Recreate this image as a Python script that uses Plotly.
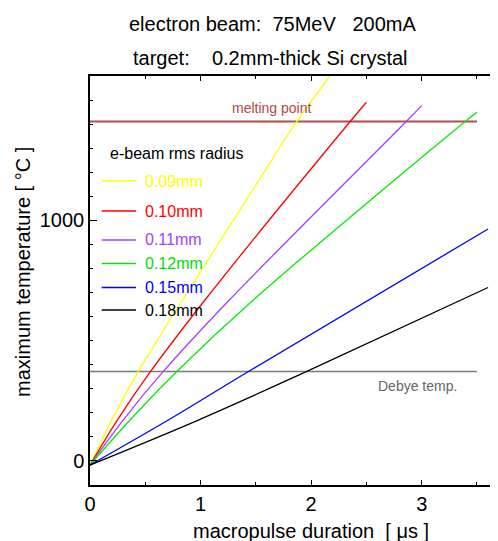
import plotly.graph_objects as go

# ---- data ----
radius_labels = ["0.09mm", "0.10mm", "0.11mm", "0.12mm", "0.15mm", "0.18mm"]
colors = ["#ffff00", "#ff0000", "#a040ff", "#00ee00", "#0000ff", "#000000"]
legend_text_colors = ["#ffff00", "#ff0000", "#a040ff", "#00e000", "#0000ff", "#000000"]

dur_009 = [0, 0.196, 0.437, 0.838, 1.538, 1.87, 2.17]
temp_009 = [-17, 170, 372, 669, 1174, 1411, 1600]
dur_010 = [0, 0.247, 0.548, 1.04, 2.353, 2.5]
temp_010 = [-17, 170, 372, 669, 1411, 1491]
dur_011 = [0, 0.30, 0.663, 1.26, 2.86, 3.0]
temp_011 = [-17, 170, 372, 669, 1411, 1477]
dur_012 = [0, 0.362, 0.785, 1.477, 3.394, 3.5]
temp_012 = [-17, 170, 372, 669, 1411, 1449]
dur_015 = [0, 0.708, 1.433, 3.6]
temp_015 = [-17, 170, 372, 964]
dur_018 = [0, 0.98, 1.961, 3.6]
temp_018 = [-17, 170, 372, 721]

durations = [dur_009, dur_010, dur_011, dur_012, dur_015, dur_018]
temps = [temp_009, temp_010, temp_011, temp_012, temp_015, temp_018]

melting_point = 1411
debye_temp = 372
ref_line_x = [0, 3.5]

FONT = "Liberation Sans, Arial, sans-serif"

# page body has an 8px margin; plot area in screen px: x 90..498, y 76..485
PX_L, PX_R, PX_T, PX_B = 90, 498, 76, 485
PW, PH = PX_R - PX_L, PX_B - PX_T


def px(xs):
    return (xs - PX_L) / PW


def py(ys):
    return (PX_B - ys) / PH


fig = go.Figure()

# reference lines
fig.add_trace(go.Scatter(x=ref_line_x, y=[melting_point] * 2, mode="lines",
                         line=dict(color="#b34d4d", width=2), showlegend=False,
                         hoverinfo="skip"))
fig.add_trace(go.Scatter(x=ref_line_x, y=[debye_temp] * 2, mode="lines",
                         line=dict(color="#7a7a7a", width=1.5), showlegend=False,
                         hoverinfo="skip"))

for lab, c, xs, ys in zip(radius_labels, colors, durations, temps):
    fig.add_trace(go.Scatter(x=xs, y=ys, mode="lines", name=lab,
                             line=dict(color=c, width=1.3, shape="spline", smoothing=1),
                             showlegend=False))

annotations = []
shapes = []

# handmade legend
annotations.append(dict(text="e-beam rms radius", xref="paper", yref="paper",
                        x=px(107.5), y=py(153), xanchor="left", yanchor="middle",
                        showarrow=False, font=dict(size=16, color="#000000", family=FONT)))
leg_y = [181, 211, 240, 263.5, 287.5, 310]
for lab, c, tc, yy in zip(radius_labels, colors, legend_text_colors, leg_y):
    shapes.append(dict(type="line", xref="paper", yref="paper", x0=px(101.7), x1=px(136),
                       y0=py(yy), y1=py(yy), line=dict(color=c, width=1.3)))
    annotations.append(dict(text=lab, xref="paper", yref="paper", x=px(142.5), y=py(yy),
                            xanchor="left", yanchor="middle", showarrow=False,
                            font=dict(size=16, color=tc, family=FONT)))

# reference line labels
annotations.append(dict(text="melting point", x=1.64, y=melting_point, xref="x", yref="y",
                        xanchor="center", yanchor="bottom", yshift=3, showarrow=False,
                        font=dict(size=14, color="#b34747", family=FONT)))
annotations.append(dict(text="Debye temp.", x=2.96, y=debye_temp, xref="x", yref="y",
                        xanchor="center", yanchor="top", yshift=-5, showarrow=False,
                        font=dict(size=14, color="#666666", family=FONT)))

# titles
annotations.append(dict(text="electron beam:&nbsp; 75MeV&nbsp;&nbsp; 200mA", xref="paper", yref="paper",
                        x=px(272.5), y=py(24), xanchor="center", yanchor="middle",
                        showarrow=False, font=dict(size=20, color="#000000", family=FONT)))
annotations.append(dict(text="target:&nbsp;&nbsp;&nbsp; 0.2mm-thick Si crystal", xref="paper", yref="paper",
                        x=px(270.5), y=py(58), xanchor="center", yanchor="middle",
                        showarrow=False, font=dict(size=20, color="#000000", family=FONT)))
# axis titles
annotations.append(dict(text="macropulse duration&nbsp; [ μs ]", xref="paper", yref="paper",
                        x=px(311), y=py(531), xanchor="center", yanchor="middle",
                        showarrow=False, font=dict(size=20, color="#000000", family=FONT)))
annotations.append(dict(text="maximum temperature [ °C ]", xref="paper", yref="paper",
                        x=px(23), y=py(272), xanchor="center", yanchor="middle",
                        textangle=-90, showarrow=False,
                        font=dict(size=20, color="#000000", family=FONT)))

fig.update_layout(
    width=490, height=533,
    margin=dict(l=PX_L - 8, r=0, t=PX_T - 8, b=533 - (PX_B - 8)),
    paper_bgcolor="white", plot_bgcolor="white",
    font=dict(family=FONT, size=20, color="#000000"),
    showlegend=False,
    annotations=annotations,
    shapes=shapes,
    xaxis=dict(range=[0, 3.69], showgrid=False, zeroline=False,
               showline=True, linecolor="#000000", linewidth=1.5, mirror="ticks",
               ticks="inside", ticklen=5, tickcolor="#000000", tickwidth=1,
               tick0=0, dtick=1, tickfont=dict(size=20),
               minor=dict(ticks="inside", ticklen=3, dtick=0.5, tick0=0, tickcolor="#000000", showgrid=False)),
    yaxis=dict(range=[-100, 1600], showgrid=False, zeroline=False,
               showline=True, linecolor="#000000", linewidth=1.5, mirror=False,
               ticks="inside", ticklen=7, tickcolor="#000000", tickwidth=1,
               tick0=0, dtick=1000, tickfont=dict(size=20),
               minor=dict(ticks="inside", ticklen=3, dtick=100, tick0=0, tickcolor="#000000", showgrid=False)),
    yaxis2=dict(range=[-100, 1600], overlaying="y", side="right", anchor="x",
                showgrid=False, zeroline=False, showline=False, showticklabels=False,
                ticks="inside", ticklen=8, tickcolor="#000000", tickwidth=1,
                tick0=0, dtick=1000,
                minor=dict(ticks="inside", ticklen=3, dtick=100, tick0=0, tickcolor="#000000", showgrid=False)),
)

fig.write_html("out.html", config={"displayModeBar": False})
